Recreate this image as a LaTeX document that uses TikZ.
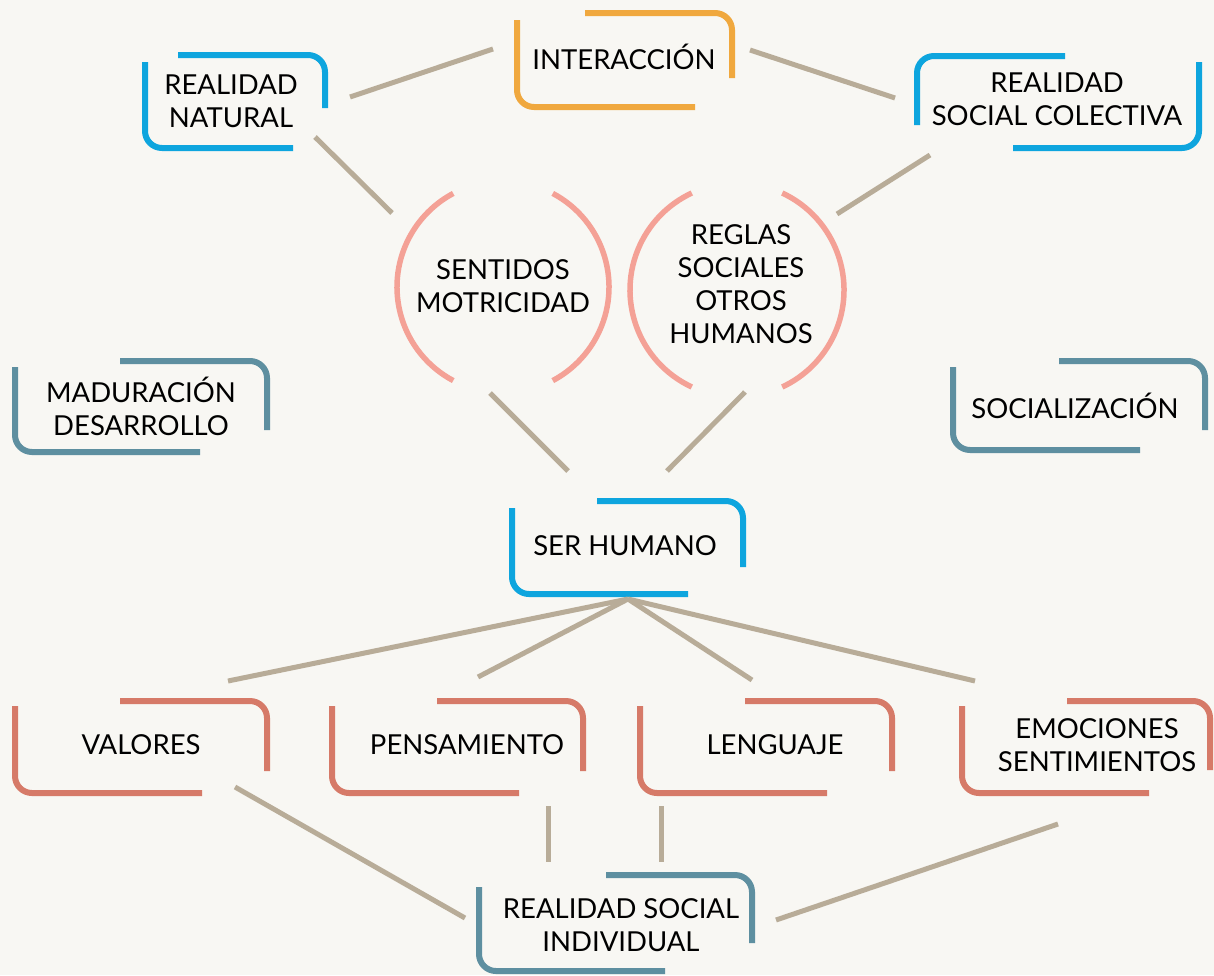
\documentclass[tikz,border=0pt]{standalone}
\usepackage{fontspec}
\setmainfont{Lato}
\definecolor{cBg}{HTML}{F8F7F3}
\definecolor{cOrange}{HTML}{F0A83E}
\definecolor{cBlue}{HTML}{0EA5DE}
\definecolor{cTeal}{HTML}{5E8FA0}
\definecolor{cRust}{HTML}{D67A68}
\definecolor{cArc}{HTML}{F4A196}
\definecolor{cLine}{HTML}{B8AC98}
\newcommand{\brkbox}[9]{%
  \draw[brk,#9] (#5,#3) -- (#2,#3) -- (#2,#6);
  \draw[brk,#9] (#1,#7) -- (#1,#4) -- (#8,#4);}
\begin{document}
\begin{tikzpicture}[x=1pt,y=-1pt,
  lbl/.style={font=\fontsize{27.5}{33}\selectfont, align=center, text=black, inner sep=0pt},
  conn/.style={draw=cLine, line width=5pt},
  brk/.style={line width=6pt, rounded corners=17pt},
  arcst/.style={draw=cArc, line width=5.5pt}]
\fill[cBg] (0,0) rectangle (1214,975);
\useasboundingbox (0,0) rectangle (1214,975);

% boxes
\brkbox{517}{732}{13}{107}{585}{78}{20}{695}{cOrange}
\brkbox{145}{325}{55}{148}{178}{108}{62}{293}{cBlue}
% mirrored box (top-left / bottom-right)
\draw[brk,cBlue] (1065,56) -- (917,56) -- (917,125);
\draw[brk,cBlue] (1199,62) -- (1199,148) -- (1013,148);
\brkbox{15}{267}{361}{452}{120}{430}{367}{200}{cTeal}
\brkbox{953}{1205}{361}{450}{1059}{430}{367}{1140}{cTeal}
\brkbox{512}{743}{501}{594}{597}{567}{508}{688}{cBlue}
\brkbox{15}{267}{701}{793}{120}{771}{706}{202}{cRust}
\brkbox{332}{583}{701}{793}{437}{771}{706}{519}{cRust}
\brkbox{640}{892}{701}{793}{745}{771}{706}{827}{cRust}
\brkbox{962}{1210}{701}{793}{1067}{770}{706}{1149}{cRust}
\brkbox{479}{752}{875}{971}{606}{943}{887}{665}{cTeal}

% arcs
\coordinate (senc) at (503,287);
\coordinate (regc) at (737,290);
\draw[arcst] (senc) ++(118:106) arc[start angle=118, end angle=242, radius=106];
\draw[arcst] (senc) ++(-62:106) arc[start angle=-62, end angle=62, radius=106];
\draw[arcst] (regc) ++(115:107) arc[start angle=115, end angle=245, radius=107];
\draw[arcst] (regc) ++(-65:107) arc[start angle=-65, end angle=65, radius=107];

% labels
\node[lbl] (inter) at (624,57) {INTERACCIÓN};
\node[lbl] (rnat) at (231,101) {REALIDAD\\NATURAL};
\node[lbl] (rsc) at (1057,99) {REALIDAD\\SOCIAL COLECTIVA};
\node[lbl] (sent) at (503,286) {SENTIDOS\\MOTRICIDAD};
\node[lbl] (regl) at (741,284) {REGLAS\\SOCIALES\\OTROS\\HUMANOS};
\node[lbl] (madu) at (141,406) {MADURACIÓN\\DESARROLLO};
\node[lbl] (soci) at (1075,406) {SOCIALIZACIÓN};
\node[lbl] (ser) at (625,546) {SER HUMANO};
\node[lbl] (valo) at (141,745) {VALORES};
\node[lbl] (pens) at (467,745) {PENSAMIENTO};
\node[lbl] (leng) at (775,745) {LENGUAJE};
\node[lbl] (emoc) at (1097,745) {EMOCIONES\\SENTIMIENTOS};
\node[lbl] (rsi) at (621,925) {REALIDAD SOCIAL\\INDIVIDUAL};

% connector end points
\coordinate (rnat-e) at (350,97);
\coordinate (inter-w) at (493,49);
\coordinate (inter-e) at (750,50);
\coordinate (rsc-w) at (895,98);
\coordinate (rnat-s) at (315,137);
\coordinate (sent-nw) at (392,213);
\coordinate (rsc-s) at (930,155);
\coordinate (regl-ne) at (837,214);
\coordinate (sent-se) at (490,393);
\coordinate (regl-sw) at (745,392);
\coordinate (ser-nw) at (568,471);
\coordinate (ser-ne) at (667,471);
\coordinate (ser-s) at (628,599);
\coordinate (valo-n) at (228,681);
\coordinate (pens-n) at (478,677);
\coordinate (leng-n) at (752,680);
\coordinate (emoc-n) at (975,681);
\coordinate (valo-s) at (235,787);
\coordinate (rsi-w) at (465,918);
\coordinate (pens-s) at (548,806);
\coordinate (rsi-n1) at (548,862);
\coordinate (leng-s) at (661,806);
\coordinate (rsi-n2) at (661,862);
\coordinate (emoc-s) at (1058,824);
\coordinate (rsi-e) at (776,920);

\draw[conn] (rnat-e) -- (inter-w);
\draw[conn] (inter-e) -- (rsc-w);
\draw[conn] (rnat-s) -- (sent-nw);
\draw[conn] (rsc-s) -- (regl-ne);
\draw[conn] (sent-se) -- (ser-nw);
\draw[conn] (regl-sw) -- (ser-ne);
\draw[conn] (ser-s) -- (valo-n);
\draw[conn] (ser-s) -- (pens-n);
\draw[conn] (ser-s) -- (leng-n);
\draw[conn] (ser-s) -- (emoc-n);
\draw[conn] (valo-s) -- (rsi-w);
\draw[conn] (pens-s) -- (rsi-n1);
\draw[conn] (leng-s) -- (rsi-n2);
\draw[conn] (emoc-s) -- (rsi-e);
\end{tikzpicture}
\end{document}
